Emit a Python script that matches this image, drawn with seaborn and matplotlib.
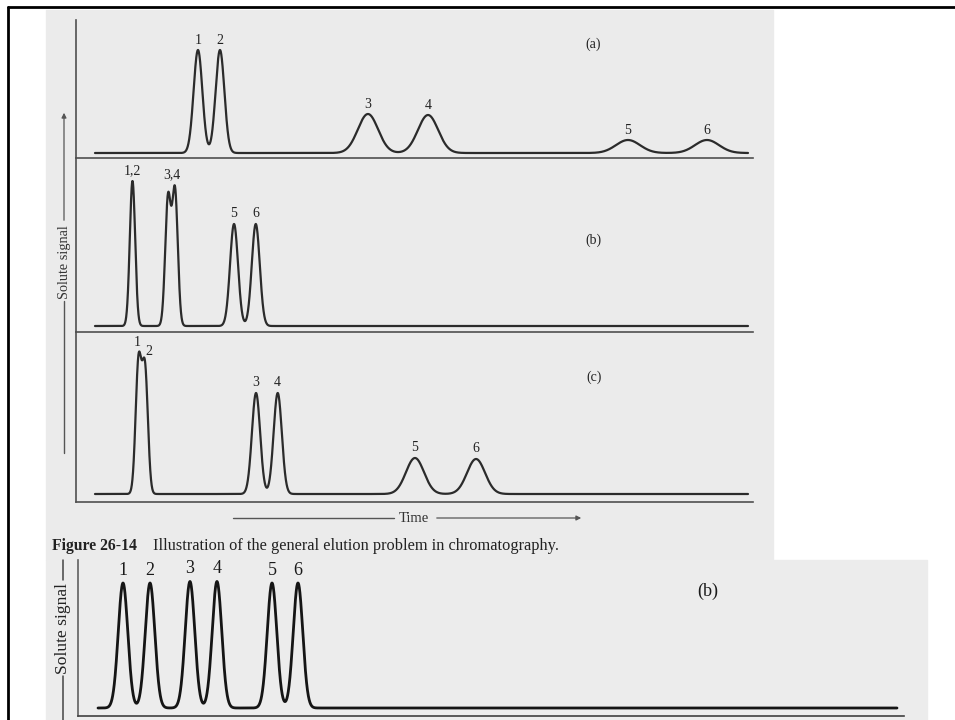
import numpy as np
import pandas as pd
import seaborn as sns
import matplotlib
matplotlib.use("Agg")
import matplotlib.pyplot as plt
from matplotlib.lines import Line2D
from matplotlib.patches import Rectangle, FancyArrowPatch

# ---------------- data (peak tables) ----------------
compounds = ["1", "2", "3", "4", "5", "6"]

# panel (a): isocratic, weak mobile phase
a_pos = [15.77, 19.14, 41.8, 51.0, 81.62, 93.72]
a_height = [103, 103, 39, 38, 13, 13]
a_sigma = [0.67, 0.67, 1.55, 1.55, 1.84, 1.84]

# panel (b): strong mobile phase
b_pos = [5.74, 5.74, 11.18, 12.25, 21.29, 24.62]
b_height = [72.5, 72.5, 127, 134, 102, 102]
b_sigma = [0.41, 0.41, 0.43, 0.43, 0.61, 0.61]
b_label_text = ["1,2", "3,4", "5", "6"]
b_label_groups = [[0, 1], [2, 3], [4], [5]]

# panel (c): intermediate
c_pos = [6.66, 7.66, 24.66, 27.98, 49.0, 58.35]
c_height = [130, 122.5, 101, 101, 36, 35]
c_sigma = [0.444, 0.444, 0.63, 0.63, 1.38, 1.38]

# lower picture: gradient elution (b)
d_pos = [3.13, 6.51, 11.51, 14.89, 21.78, 25.03]
d_height = [125, 125, 126.5, 126.5, 125, 125]
d_sigma = [0.60, 0.60, 0.60, 0.60, 0.60, 0.60]

caption_bold = "Figure 26-14"
caption_text = "Illustration of the general elution problem in chromatography."

# ---------------- helpers ----------------
W, H = 955, 720
sns.set_theme(style="white")
plt.rcParams['font.family'] = ['Liberation Serif', 'DejaVu Serif']

fig = plt.figure(figsize=(W / 100, H / 100), dpi=100)
fig.patch.set_facecolor("white")

def fx(x):
    return x / W

def fy(y):
    return 1 - y / H

def add_ax(l, t, r, b):
    ax = fig.add_axes([fx(l), fy(b), (r - l) / W, (b - t) / H])
    ax.set_zorder(2)
    return ax

def trace(pos, height, sigma, t):
    y = np.zeros_like(t)
    for p, h, s in zip(pos, height, sigma):
        y += h * np.exp(-0.5 * ((t - p) / s) ** 2)
    return y

t = np.linspace(0, 100, 8001)

# scanned-page backgrounds
fig.patches.append(Rectangle((fx(46), fy(560)), (773 - 46) / W, (560 - 10) / H,
                             transform=fig.transFigure, color="#ebebeb", zorder=-5))
fig.patches.append(Rectangle((fx(46), fy(720)), (927 - 46) / W, (720 - 560) / H,
                             transform=fig.transFigure, color="#ececec", zorder=-5))

AX_COL = "#505050"
TR_COL = "#2b2b2b"
LAB = 10

def style_ax(ax, xlim, ylim):
    ax.set_xlim(*xlim)
    ax.set_ylim(*ylim)
    ax.set_facecolor("none")
    ax.patch.set_alpha(0)
    for s in ["top", "right"]:
        ax.spines[s].set_visible(False)
    for s in ["left", "bottom"]:
        ax.spines[s].set_color(AX_COL)
        ax.spines[s].set_linewidth(1.2)
    ax.set_xticks([])
    ax.set_yticks([])
    ax.set_xlabel("")
    ax.set_ylabel("")

def draw_panel(ax, pos, height, sigma, xlim, ylim, lw, color):
    y = trace(pos, height, sigma, t)
    df = pd.DataFrame({"time": t, "signal": y})
    sns.lineplot(data=df, x="time", y="signal", ax=ax, color=color, lw=lw,
                 estimator=None, sort=False)
    style_ax(ax, xlim, ylim)
    return y

def peak_top(y, p, s):
    m = (t > p - 3 * s) & (t < p + 3 * s)
    return y[m].max()

xlim_top = ((76 - 95) / 6.53, (753 - 95) / 6.53)

# ---------------- panel (a) ----------------
ax_a = add_ax(76, 20, 753, 158)
ya = draw_panel(ax_a, a_pos, a_height, a_sigma, xlim_top, (-5, 133), 1.6, TR_COL)
for lab, p, s in zip(compounds, a_pos, a_sigma):
    ax_a.annotate(lab, (p, peak_top(ya, p, s)), xytext=(0, 2), textcoords="offset points",
                  ha="center", va="bottom", fontsize=LAB, color="#222222")
ax_a.text((593 - 76) / (753 - 76), 1 - (44 - 20) / (158 - 20), "(a)", transform=ax_a.transAxes,
          ha="center", va="center", fontsize=LAB, color="#222222")

# ---------------- panel (b) ----------------
ax_b = add_ax(76, 158, 753, 332)
yb = draw_panel(ax_b, b_pos, b_height, b_sigma, xlim_top, (-6, 168), 1.6, TR_COL)
for lab, grp in zip(b_label_text, b_label_groups):
    px = np.mean([b_pos[i] for i in grp])
    top = max(peak_top(yb, b_pos[i], b_sigma[i]) for i in grp)
    ax_b.annotate(lab, (px, top), xytext=(0, 3), textcoords="offset points",
                  ha="center", va="bottom", fontsize=LAB, color="#222222")
ax_b.text((593 - 76) / (753 - 76), 1 - (240 - 158) / (332 - 158), "(b)", transform=ax_b.transAxes,
          ha="center", va="center", fontsize=LAB, color="#222222")

# ---------------- panel (c) ----------------
ax_c = add_ax(76, 332, 753, 502)
yc = draw_panel(ax_c, c_pos, c_height, c_sigma, xlim_top, (-8, 162), 1.6, TR_COL)
c_offsets = [(-1, 2), (3, -5), (0, 3), (0, 3), (0, 3), (0, 3)]
for lab, p, s, off in zip(compounds, c_pos, c_sigma, c_offsets):
    ax_c.annotate(lab, (p, peak_top(yc, p, s)), xytext=off, textcoords="offset points",
                  ha="center", va="bottom", fontsize=LAB, color="#222222")
ax_c.text((594 - 76) / (753 - 76), 1 - (377 - 332) / (502 - 332), "(c)", transform=ax_c.transAxes,
          ha="center", va="center", fontsize=LAB, color="#222222")

# ---------------- lower picture ----------------
ax_d = add_ax(78, 560, 904, 716)
yd = draw_panel(ax_d, d_pos, d_height, d_sigma, ((78 - 98) / 7.99, (904 - 98) / 7.99),
                (-8, 148), 2.0, "#151515")
ax_d.spines["left"].set_color("#606060")
ax_d.spines["bottom"].set_color("#404040")
for lab, p, s in zip(compounds, d_pos, d_sigma):
    ax_d.annotate(lab, (p, peak_top(yd, p, s)), xytext=(0, 3), textcoords="offset points",
                  ha="center", va="bottom", fontsize=13, color="#1a1a1a")
ax_d.text((708 - 78) / (904 - 78), 1 - (591 - 560) / (716 - 560), "(b)", transform=ax_d.transAxes,
          ha="center", va="center", fontsize=13, color="#1a1a1a")

# ---------------- axis titles with arrows ----------------
def fline(x0, y0, x1, y1, lw=1.0, color="#555555"):
    fig.add_artist(Line2D([fx(x0), fx(x1)], [fy(y0), fy(y1)], transform=fig.transFigure,
                          lw=lw, color=color))

def farrow(x0, y0, x1, y1, color="#555555"):
    fig.add_artist(FancyArrowPatch((fx(x0), fy(y0)), (fx(x1), fy(y1)), transform=fig.transFigure,
                                   arrowstyle="-|>", mutation_scale=7, lw=0.9, color=color))

farrow(64, 223, 64, 110)
fline(64, 301, 64, 453)
fig.text(fx(64), fy(262), "Solute signal", rotation=90, ha="center", va="center",
         fontsize=10.3, color="#333333")

fline(233, 518, 394, 518)
farrow(434, 518, 584, 518)
fig.text(fx(414), fy(518), "Time", ha="center", va="center", fontsize=10.5, color="#333333")

fline(63, 560, 63, 580, lw=1.1, color="#444444")
fline(63, 676, 63, 720, lw=1.1, color="#444444")
fig.text(fx(63), fy(628), "Solute signal", rotation=90, ha="center", va="center",
         fontsize=12.6, color="#222222")

# ---------------- caption ----------------
fig.text(fx(52), fy(546), caption_bold, ha="left", va="center", fontsize=11.3,
         fontweight="bold", color="#222222")
fig.text(fx(153), fy(546), caption_text, ha="left", va="center", fontsize=11.8, color="#222222")

# ---------------- slide frame ----------------
fig.add_artist(Line2D([fx(8), fx(8)], [fy(7), fy(720)], transform=fig.transFigure,
                      lw=2.0, color="black"))
fig.add_artist(Line2D([fx(8), fx(955)], [fy(7), fy(7)], transform=fig.transFigure,
                      lw=2.0, color="black"))

fig.savefig("out.png", dpi=100)
